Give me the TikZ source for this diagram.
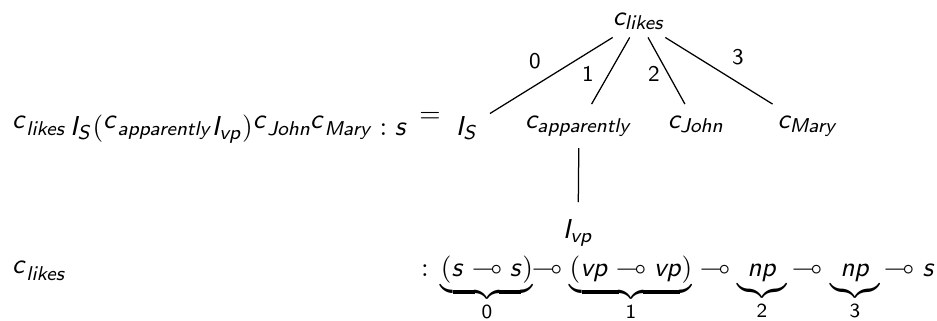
\documentclass[11pt,tikz,border=0pt]{standalone}
\usepackage{amssymb}
\DeclareMathAlphabet{\sfit}{OT1}{cmss}{m}{sl}
\DeclareMathAlphabet{\sfup}{OT1}{cmss}{m}{n}
\newcommand\cst[1]{\sfit{c}_{\sfit{#1}}}
\newcommand\cfm[1]{\raisebox{2.8pt}{$\sfit{c}$}{\scriptstyle\sfit{#1}}}
\newcommand\grp[2]{$\underbrace{#1}_{\sfup{#2}}$}
\begin{document}
\begin{tikzpicture}[x=0.4pt,y=-0.4pt,
  txt/.style={inner sep=0pt,outer sep=0pt},
  bt/.style={inner sep=0pt,outer sep=0pt,anchor=base},
  tnode/.style={inner sep=4.5pt,anchor=base},
  lbl/.style={inner sep=0pt,font=\footnotesize\sffamily},
  link/.style={line width=0.5pt}]
\useasboundingbox (0,0) rectangle (937,320);
% left formulas
\node[txt,anchor=base west] (lhs) at (12,135)
  {$\cfm{likes}\,\sfit{I}_{\sfit{S}}\sfup{(}\cfm{apparently}\sfit{I}_{\sfit{vp}}\sfup{)}\cfm{John}\cfm{Mary}\mathrel{\sfup{:}}\sfit{s}$};
\node[txt] (eq) at (430,117) {$=$};
% tree
\node[tnode,inner sep=3pt] (top) at (639,25) {$\cst{likes}$};
\node[tnode] (IS) at (467,135) {$\sfit{I}_{\sfit{S}}$};
\node[tnode] (capp) at (579,128) {$\cst{apparently}$};
\node[tnode] (cjohn) at (696,128) {$\cst{John}$};
\node[tnode] (cmary) at (808,128) {$\cst{Mary}$};
\node[tnode] (Ivp) at (578,238) {$\sfit{I}_{\sfit{vp}}$};
\draw[link] (top) -- (IS);
\draw[link] (top) -- (capp);
\draw[link] (top) -- (cjohn);
\draw[link] (top) -- (cmary);
\draw[link,shorten >=2pt] (capp) -- (Ivp);
\node[lbl] (l0) at (535,61) {0};
\node[lbl] (l1) at (588,74) {1};
\node[lbl] (l2) at (654,74) {2};
\node[lbl] (l3) at (738,57) {3};
% bottom row
\node[txt,anchor=base west] (lhs2) at (12,280) {$\cfm{likes}$};
\node[bt] (colon) at (425,276) {$\sfup{:}$};
\node[bt] (g0) at (487,276) {\grp{\sfup{(}\sfit{s}\multimap\sfit{s}\sfup{)}}{0}};
\node[bt] (m1) at (547,276) {$\multimap$};
\node[bt] (g1) at (631,276) {\grp{\sfup{(}\sfit{vp}\multimap\sfit{vp}\sfup{)}}{1}};
\node[bt] (m2) at (715,276) {$\multimap$};
\node[bt] (g2) at (762,276) {\grp{\sfit{np}}{2}};
\node[bt] (m3) at (807,276) {$\multimap$};
\node[bt] (g3) at (855,276) {\grp{\sfit{np}}{3}};
\node[bt] (m4) at (899,276) {$\multimap$};
\node[bt] (sres) at (929,276) {$\sfit{s}$};
\end{tikzpicture}
\end{document}
